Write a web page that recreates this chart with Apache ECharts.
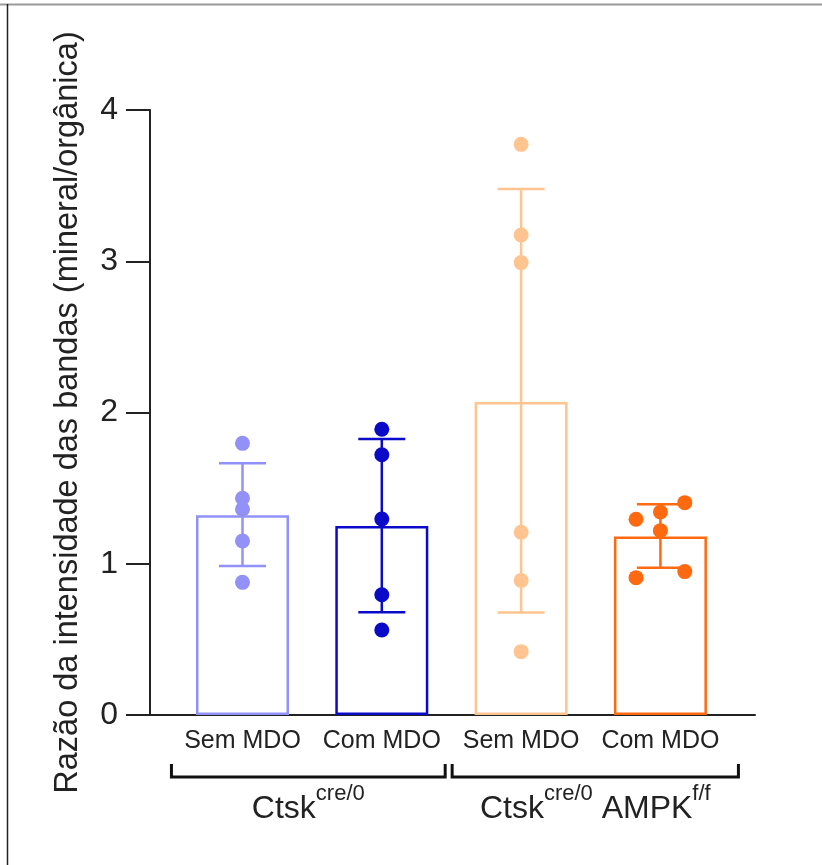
<!DOCTYPE html>
<html>
<head>
<meta charset="utf-8">
<script src="https://cdn.jsdelivr.net/npm/echarts@6/dist/echarts.min.js"></script>
<style>
html,body{margin:0;padding:0;background:#fff;}
#chart{width:822px;height:865px;}
</style>
</head>
<body>
<div id="chart"></div>
<script>
// ---- data ----
const categories = ['Sem MDO', 'Com MDO', 'Sem MDO', 'Com MDO'];
const groupLabels = ['{m|Ctsk}{s|cre/0}', '{m|Ctsk}{s|cre/0}{m| AMPK}{s|f/f}'];
const groupSpans = [[-0.51, 1.455], [1.505, 3.56]];
const means = [1.32, 1.25, 2.07, 1.18];
const sdLow = [0.985, 0.679, 0.677, 0.974];
const sdHigh = [1.664, 1.825, 3.478, 1.393];
const points1 = [1.796, 1.433, 1.360, 1.150, 0.877];
const points2 = [1.889, 1.721, 1.296, 0.795, 0.562];
const points3 = [3.773, 3.174, 2.991, 1.208, 0.890, 0.419];
const points4 = [1.404, 1.342, 1.294, 1.219, 0.948, 0.908];
const lanes1 = [0, 0, 0, 0, 0];
const lanes2 = [0, 0, 0, 0, 0];
const lanes3 = [0, 0, 0, 0, 0, 0];
const lanes4 = [1, 0, -1, 0, 1, -1];
const yTicks = [0, 1, 2, 3, 4];
const yTitle = 'Razão da intensidade das bandas (mineral/orgânica)';

// ---- style ----
const colors = ['#9191F7', '#0A0AC8', '#FFC48F', '#FF6A10'];
const FONT = '"Liberation Sans", Arial, sans-serif';
const laneWidth = 0.175;

const allPoints = [points1, points2, points3, points4];
const allLanes = [lanes1, lanes2, lanes3, lanes4];

const chart = echarts.init(document.getElementById('chart'), null, {renderer: 'canvas'});

const scatterSeries = allPoints.map((pts, gi) => ({
  type: 'scatter',
  z: 5,
  symbol: 'circle',
  symbolSize: 15,
  itemStyle: {color: colors[gi], opacity: 1},
  data: pts.map((v, k) => [gi + allLanes[gi][k] * laneWidth, v]),
  silent: true
}));

const option = {
  animation: false,
  backgroundColor: '#fff',
  grid: {left: 150, right: 67, top: 110, bottom: 150, containLabel: false},
  xAxis: {
    type: 'value',
    min: -0.664,
    max: 3.679,
    splitLine: {show: false},
    axisLine: {show: true, onZero: false, lineStyle: {color: '#222', width: 2}},
    axisTick: {show: false},
    axisLabel: {
      show: true,
      customValues: [0, 1, 2, 3],
      formatter: v => categories[Math.round(v)],
      fontSize: 25,
      color: '#222',
      fontFamily: FONT,
      margin: 14
    }
  },
  yAxis: {
    type: 'value',
    min: 0,
    max: 4,
    interval: 1,
    splitLine: {show: false},
    axisLine: {show: true, onZero: false, lineStyle: {color: '#222', width: 2}},
    axisTick: {show: true, inside: false, length: 24, lineStyle: {color: '#222', width: 2}},
    axisLabel: {fontSize: 32, color: '#222', fontFamily: FONT, margin: 32,
      formatter: v => yTicks.includes(v) ? String(v) : ''},
    name: yTitle,
    nameLocation: 'middle',
    nameRotate: 90,
    nameGap: 65,
    nameTextStyle: {fontSize: 32.5, color: '#222', fontFamily: FONT, padding: [0, 0, 0, 0]}
  },
  graphic: [
    {type: 'line', shape: {x1: 0, y1: 4.5, x2: 822, y2: 4.5}, style: {stroke: '#9a9a9a', lineWidth: 2}, z: 100},
    {type: 'line', shape: {x1: 7.5, y1: 4, x2: 7.5, y2: 865}, style: {stroke: '#222', lineWidth: 1.5}, z: 100}
  ],
  series: [
    {
      type: 'bar',
      barWidth: 93,
      z: 2,
      silent: true,
      data: means.map((m, i) => ({
        value: [i, m],
        itemStyle: {color: 'rgba(255,255,255,0)', borderColor: colors[i], borderWidth: 2.5}
      }))
    },
    {
      type: 'custom',
      z: 3,
      silent: true,
      data: means.map((m, i) => [i, sdLow[i], sdHigh[i]]),
      encode: {x: 0, y: [1, 2]},
      renderItem: (params, api) => {
        const i = api.value(0);
        const lo = api.coord([i, api.value(1)]);
        const hi = api.coord([i, api.value(2)]);
        const half = 23.5;
        const style = {stroke: colors[params.dataIndex], lineWidth: 2.5, fill: null};
        return {
          type: 'group',
          children: [
            {type: 'line', shape: {x1: lo[0], y1: lo[1], x2: hi[0], y2: hi[1]}, style},
            {type: 'line', shape: {x1: lo[0] - half, y1: lo[1], x2: lo[0] + half, y2: lo[1]}, style},
            {type: 'line', shape: {x1: hi[0] - half, y1: hi[1], x2: hi[0] + half, y2: hi[1]}, style}
          ]
        };
      }
    },
    ...scatterSeries,
    {
      type: 'custom',
      z: 4,
      silent: true,
      clip: false,
      data: groupSpans.map((s, g) => [s[0], s[1], g]),
      encode: {x: [0, 1], y: 2},
      renderItem: (params, api) => {
        const a = api.coord([api.value(0), 0]);
        const b = api.coord([api.value(1), 0]);
        const yBot = a[1] + 62;
        const yTop = a[1] + 49;
        const cx = (a[0] + b[0]) / 2;
        return {
          type: 'group',
          children: [
            {type: 'polyline', shape: {points: [[a[0], yTop], [a[0], yBot], [b[0], yBot], [b[0], yTop]]},
              style: {stroke: '#111', lineWidth: 3, fill: null}},
            {type: 'text', style: {
              text: groupLabels[params.dataIndex],
              x: cx, y: a[1] + 89,
              align: 'center', verticalAlign: 'middle',
              rich: {
                m: {fontSize: 32, fontFamily: FONT, fill: '#222', lineHeight: 42, verticalAlign: 'bottom'},
                s: {fontSize: 22, fontFamily: FONT, fill: '#222', lineHeight: 24, verticalAlign: 'top'}
              }
            }}
          ]
        };
      }
    }
  ]
};
chart.setOption(option);
</script>
</body>
</html>
